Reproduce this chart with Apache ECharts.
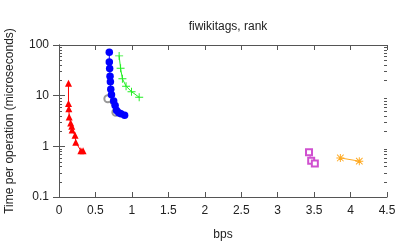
<!DOCTYPE html>
<html>
<head>
<meta charset="utf-8">
<script src="https://cdn.jsdelivr.net/npm/echarts@6/dist/echarts.min.js"></script>
<style>
html,body{margin:0;padding:0;background:#fff;}
#c{width:407px;height:244px;}
</style>
</head>
<body>
<div id="c"></div>
<script>
// Data
var redX   = [0.13, 0.13, 0.135, 0.14, 0.16, 0.175, 0.18, 0.22, 0.23, 0.30, 0.33];
var redY   = [17.5, 7.0, 5.5, 3.8, 2.9, 2.5, 2.1, 1.65, 1.2, 0.82, 0.82];
var blueX  = [0.69, 0.69, 0.695, 0.70, 0.705, 0.71, 0.72, 0.75, 0.77, 0.79, 0.82, 0.85, 0.90];
var blueY  = [72, 46, 34.5, 24.3, 18.9, 13.4, 10.4, 7.85, 6.4, 5.1, 4.6, 4.4, 4.1];
var grayX  = [0.67, 0.78];
var grayY  = [8.7, 4.7];
var greenX = [0.825, 0.845, 0.87, 0.92, 0.995, 1.10];
var greenY = [61, 34.7, 21.5, 15.4, 12, 9.3];
var purpleX = [3.43, 3.46, 3.51];
var purpleY = [0.76, 0.52, 0.46];
var orangeX = [3.86, 4.12];
var orangeY = [0.59, 0.51];
var xTicks = [0, 0.5, 1, 1.5, 2, 2.5, 3, 3.5, 4, 4.5];
var yTicks = [0.1, 1, 10, 100];
var minorMult = [2, 3, 4, 5, 6, 7, 8, 9];

function pairs(xs, ys) { return xs.map(function (x, i) { return [x, ys[i]]; }); }

var minorData = [];
yTicks.slice(0, -1).forEach(function (d) {
  minorMult.forEach(function (m) { minorData.push([0, +(d * m).toPrecision(3)]); });
});

var axisColor = '#555';
var txt = '#222';
var font = 'Liberation Sans, Arial, sans-serif';
var fs = 12;

var chart = echarts.init(document.getElementById('c'), null, {renderer: 'canvas'});

var plusPath = 'path://M4.4,0H5.6V4.4H10V5.6H5.6V10H4.4V5.6H0V4.4H4.4Z';
var starPath = 'path://M4.4,0H5.6V4.4H10V5.6H5.6V10H4.4V5.6H0V4.4H4.4Z M1.3,0.5L9.5,8.7L8.7,9.5L0.5,1.3Z M8.7,0.5L9.5,1.3L1.3,9.5L0.5,8.7Z';

function lineSeries(name, data, color, symbol, size, extra) {
  var s = {
    name: name, type: 'line', data: data, symbol: symbol, symbolSize: size,
    lineStyle: {color: color, width: 1},
    itemStyle: {color: color},
    animation: false, z: 3
  };
  if (extra) for (var k in extra) s[k] = extra[k];
  return s;
}

var xBase = {
  type: 'value', min: 0, max: 4.5, interval: 0.5,
  axisLine: {show: true, lineStyle: {color: axisColor, width: 1}},
  axisTick: {show: true, inside: true, length: 5, lineStyle: {color: axisColor}},
  splitLine: {show: false}
};
var yBase = {
  type: 'log', logBase: 10, min: 0.1, max: 100,
  axisLine: {show: true, lineStyle: {color: axisColor, width: 1}},
  axisTick: {show: true, inside: true, length: 6, lineStyle: {color: axisColor}},
  splitLine: {show: false}
};

chart.setOption({
  animation: false,
  title: {
    text: 'fiwikitags, rank', left: 223, top: 16, textAlign: 'center',
    textStyle: {fontFamily: font, fontSize: fs, fontWeight: 'normal', color: txt}
  },
  grid: {left: 59, right: 20, top: 45, bottom: 47, containLabel: false, outerBoundsMode: 'none'},
  xAxis: [
    Object.assign({}, xBase, {
      position: 'bottom',
      name: 'bps', nameLocation: 'middle', nameGap: 32,
      nameTextStyle: {fontFamily: font, fontSize: fs, color: txt},
      axisLabel: {fontFamily: font, fontSize: fs, color: txt, margin: 8,
        formatter: function (v) { return xTicks.indexOf(v) >= 0 ? String(v) : ''; }}
    }),
    Object.assign({}, xBase, {position: 'top', axisLabel: {show: false}})
  ],
  yAxis: [
    Object.assign({}, yBase, {
      position: 'left',
      name: 'Time per operation (microseconds)', nameLocation: 'middle', nameGap: 43,
      nameTextStyle: {fontFamily: font, fontSize: fs, color: txt},
      axisLabel: {fontFamily: font, fontSize: fs, color: txt, margin: 10,
        formatter: function (v) { return String(+v.toPrecision(3)); }}
    }),
    Object.assign({}, yBase, {position: 'right', axisLabel: {show: false}})
  ],
  series: [
    {
      type: 'custom', data: minorData, silent: true, clip: false, z: 1,
      renderItem: function (params, api) {
        var v = api.value(1);
        var pl = api.coord([0, v]);
        var pr = api.coord([4.5, v]);
        var st = {stroke: axisColor, lineWidth: 1};
        var y = Math.round(pl[1]) + 0.5;
        return {type: 'group', children: [
          {type: 'line', shape: {x1: pl[0], y1: y, x2: pl[0] + 3, y2: y}, style: st},
          {type: 'line', shape: {x1: pr[0] - 3, y1: y, x2: pr[0], y2: y}, style: st}
        ]};
      }
    },
    lineSeries('red', pairs(redX, redY), '#ff0000', 'triangle', 7),
    lineSeries('gray', pairs(grayX, grayY), '#999999', 'emptyCircle', 7,
      {itemStyle: {color: '#999999', borderColor: '#999999', borderWidth: 1}}),
    lineSeries('blue', pairs(blueX, blueY), '#0000ff', 'circle', 7.5),
    lineSeries('green', pairs(greenX, greenY), '#22ee22', plusPath, 8),
    lineSeries('purple', pairs(purpleX, purpleY), '#d050d0', 'emptyRect', 6,
      {itemStyle: {color: '#d050d0', borderColor: '#d050d0', borderWidth: 1}}),
    lineSeries('orange', pairs(orangeX, orangeY), '#ffaa22', starPath, 8)
  ]
});
</script>
</body>
</html>
